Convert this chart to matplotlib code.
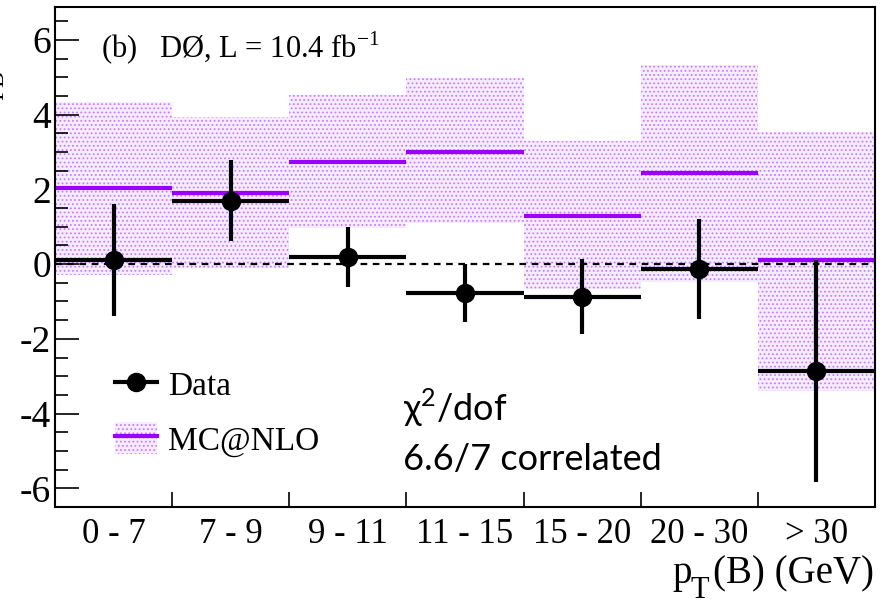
import numpy as np
import matplotlib
matplotlib.use("Agg")
import matplotlib.pyplot as plt
from matplotlib.lines import Line2D
from matplotlib.patches import Patch

# Bin labels in pT(B)
bins = ["0 - 7", "7 - 9", "9 - 11", "11 - 15", "15 - 20", "20 - 30", "> 30"]

# Data points with errors
data = [0.12, 1.70, 0.20, -0.77, -0.87, -0.13, -2.87]
data_err = [1.50, 1.08, 0.80, 0.78, 1.00, 1.33, 2.97]

# MC@NLO central values and band edges
mc = [2.03, 1.90, 2.73, 3.00, 1.30, 2.45, 0.10]
mc_hi = [4.34, 3.94, 4.53, 4.98, 3.30, 5.33, 3.54]
mc_lo = [-0.29, -0.10, 0.96, 1.10, -0.67, -0.48, -3.40]

serif = "Liberation Serif"
purple = "#9900ff"
plt.rcParams["mathtext.fontset"] = "custom"
plt.rcParams["mathtext.rm"] = serif
plt.rcParams["hatch.linewidth"] = 0.8

W, H = 889, 605
fig = plt.figure(figsize=(W / 100, H / 100), dpi=100)
ax = fig.add_axes([55 / W, 1 - 507 / H, 820 / W, 500 / H])

x = np.arange(len(bins))

# MC@NLO uncertainty band (dotted fill) and central lines
for i in x:
    ax.fill_between([i - 0.5, i + 0.5], mc_lo[i], mc_hi[i], facecolor="#f6ecff",
                    edgecolor="#c77dff", hatch="....", linewidth=0, zorder=1)
    ax.plot([i - 0.5, i + 0.5], [mc[i], mc[i]], color=purple, lw=3, zorder=2,
            solid_capstyle="butt")

# zero line
ax.axhline(0, color="black", lw=1.6, ls=(0, (3, 2.5)), zorder=3)

# data
ax.errorbar(x, data, xerr=0.5, yerr=data_err, fmt="o", color="black",
            ms=13, elinewidth=3, capsize=0, zorder=4)

ax.set_xlim(-0.5, len(bins) - 0.5)
ax.set_ylim(-6.5, 6.88)

ax.set_xticks(np.arange(len(bins) + 1) - 0.5)
ax.set_xticklabels([])
ax.set_xticks(x, minor=True)
ax.set_xticklabels(bins, minor=True, fontsize=25, family=serif)
ax.tick_params(axis="x", which="major", direction="in", length=11, width=1.2)
ax.tick_params(axis="x", which="minor", length=0, pad=8)

ax.set_yticks([-6, -4, -2, 0, 2, 4, 6])
ax.set_yticklabels(["-6", "-4", "-2", "0", "2", "4", "6"], fontsize=27, family=serif)
ax.set_yticks(np.arange(-6.5, 7, 0.5), minor=True)
ax.tick_params(axis="y", which="major", direction="in", length=17, width=1.2, pad=3)
ax.tick_params(axis="y", which="minor", direction="in", length=9, width=1.2)

for s in ax.spines.values():
    s.set_linewidth(1.5)

# x axis title, with a full size lowered T
fig.text(874 / W, 1 - 583 / H, "(B) (GeV)", ha="right", va="baseline",
         fontsize=28, family=serif)
fig.text(709 / W, 1 - 598 / H, "T", ha="right", va="baseline", fontsize=22, family=serif)
fig.text(692 / W, 1 - 583 / H, "p", ha="right", va="baseline", fontsize=28, family=serif)

# y axis title, mostly cut off at the left edge
fig.text(6 / W, 1 - 70 / H, "A$_{\\mathregular{FB}}$", rotation=90, ha="right",
         va="top", fontsize=25, family=serif)

# header text
fig.text(101 / W, 1 - 58 / H, "(b)   DØ, L = 10.4 fb$^{\\mathregular{-1}}$",
         fontsize=22, family=serif, va="baseline")

# chi2 text
fig.text(403 / W, 1 - 421 / H, "χ$^{\\mathregular{2}}$/dof", fontsize=26,
         family="Lato", va="baseline")
fig.text(403 / W, 1 - 470 / H, "6.6/7 correlated", fontsize=26,
         family="Lato", va="baseline")

# legend
h_data = Line2D([], [], color="black", lw=3, marker="o", ms=13)
h_mc = (Patch(facecolor="#f6ecff", edgecolor="#c77dff", hatch="....", linewidth=0),
        Line2D([], [], color=purple, lw=3))
leg = ax.legend([h_data, h_mc], ["Data", "MC@NLO"], loc="upper left",
                bbox_to_anchor=((115 - 55) / 820, (507 - 368) / 500), frameon=False,
                prop={"family": serif, "size": 24}, handlelength=1.25,
                handleheight=1.1, handletextpad=0.35, labelspacing=0.6,
                borderpad=0, borderaxespad=0)

fig.savefig("out.png", dpi=100)
